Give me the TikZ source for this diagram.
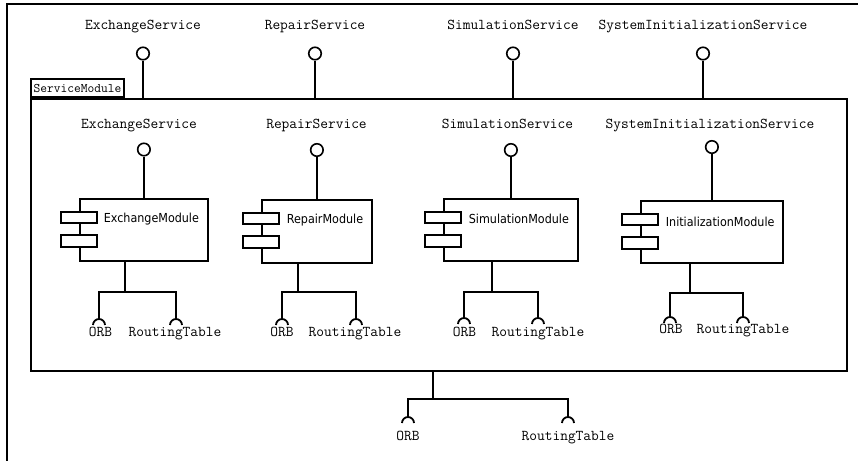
\documentclass[tikz,border=0pt]{standalone}
\usepackage{fontspec}
\setmainfont{Liberation Sans}
\newfontfamily\compfont{DejaVu Sans Condensed}
\begin{document}
\begin{tikzpicture}[x=1pt,y=1pt,line width=1.8pt,
  iflabel/.style={font=\ttfamily\fontsize{15}{17}\selectfont,inner sep=0pt,anchor=base},
  lolli/.style={circle,draw,fill=white,minimum size=12.5pt,inner sep=0pt,line width=1.6pt},
  compbox/.style={draw,rectangle,inner sep=0pt,anchor=north west},
  comptab/.style={draw,rectangle,fill=white,inner sep=0pt,minimum width=36pt,minimum height=11.5pt,line width=1.6pt},
  compname/.style={font=\compfont\fontsize{12.4}{14}\selectfont,inner sep=0pt,anchor=west},
  wire/.style={line width=1.8pt},
  socket/.pic={\draw[line width=1.8pt] (-6,-6) arc[start angle=180,end angle=0,radius=6];}
]
\useasboundingbox (0,0) rectangle (858,-461);

% page frame (top and left edges only)
\draw[line width=1.8pt] (858,-4) -- (7,-4) -- (7,-461);

% ServiceModule package frame and its name tab
\node[draw,rectangle,inner sep=0pt,anchor=north west,minimum width=816pt,minimum height=272pt] (svc) at (30,-98) {};
\node[draw,rectangle,inner sep=0pt,anchor=south west,minimum width=93pt,minimum height=18pt,
      font=\ttfamily\fontsize{13.1}{15}\selectfont] (svctab) at (30,-98) {ServiceModule};

% provided interfaces of the package
\node[iflabel] (tl1) at (143,-29) {ExchangeService};
\node[iflabel] (tl2) at (315,-29) {RepairService};
\node[iflabel] (tl3) at (513,-29) {SimulationService};
\node[iflabel] (tl4) at (703,-29) {SystemInitializationService};
\node[lolli] (tc1) at (143,-53.5) {};
\node[lolli] (tc2) at (315,-53.5) {};
\node[lolli] (tc3) at (513,-53.5) {};
\node[lolli] (tc4) at (703,-53.5) {};
\foreach \i in {1,...,4} \draw[wire] (tc\i.south) -- (tc\i.south |- svc.north);

% components inside the package
\node[compbox,minimum width=128pt,minimum height=62pt] (eBox) at (79,-198) {};
\node[compbox,minimum width=110pt,minimum height=63pt] (rBox) at (261,-199) {};
\node[compbox,minimum width=134pt,minimum height=62pt] (sBox) at (443,-198) {};
\node[compbox,minimum width=142pt,minimum height=62pt] (iBox) at (640,-200) {};

\foreach \b in {eBox,rBox,sBox,iBox} {
  \node[comptab] (\b-t1) at ([yshift=-19.5pt]\b.north west) {};
  \node[comptab] (\b-t2) at ([yshift=-43pt]\b.north west) {};
}
\node[compname] (eName) at ([xshift=24pt,yshift=-21pt]eBox.north west) {ExchangeModule};
\node[compname] (rName) at ([xshift=25pt,yshift=-21pt]rBox.north west) {RepairModule};
\node[compname] (sName) at ([xshift=25pt,yshift=-21pt]sBox.north west) {SimulationModule};
\node[compname] (iName) at ([xshift=25pt,yshift=-22pt]iBox.north west) {InitializationModule};

% provided interfaces of the components
\node[iflabel] (il1) at (139,-128) {ExchangeService};
\node[iflabel] (il2) at (316.5,-128) {RepairService};
\node[iflabel] (il3) at (507.5,-128) {SimulationService};
\node[iflabel] (il4) at (710,-128) {SystemInitializationService};
\node[lolli] (ic1) at (eBox.north |- 0,-149.5) {};
\node[lolli] (ic2) at (rBox.north |- 0,-150) {};
\node[lolli] (ic3) at (sBox.north |- 0,-150) {};
\node[lolli] (ic4) at (iBox.north |- 0,-147) {};
\draw[wire] (ic1.south) -- (eBox.north);
\draw[wire] (ic2.south) -- (rBox.north);
\draw[wire] (ic3.south) -- (sBox.north);
\draw[wire] (ic4.south) -- (iBox.north);

% required interfaces of the components
% ExchangeModule
\coordinate (eJ) at (125,-292);
\coordinate (eS1) at (99,-319);
\coordinate (eS2) at (176,-319);
\draw[wire] (eBox.south -| eJ) -- (eJ);
\draw[wire] (eS1) -- (eS1 |- eJ) -- (eS2 |- eJ) -- (eS2);
\pic at (eS1) {socket};
\pic at (eS2) {socket};
\node[iflabel] (eORB) at (100.5,-336) {ORB};
\node[iflabel] (eRT) at (175,-336) {RoutingTable};

% RepairModule
\coordinate (rJ) at (298,-292);
\coordinate (rS1) at (282,-319);
\coordinate (rS2) at (356,-319);
\draw[wire] (rBox.south -| rJ) -- (rJ);
\draw[wire] (rS1) -- (rS1 |- rJ) -- (rS2 |- rJ) -- (rS2);
\pic at (rS1) {socket};
\pic at (rS2) {socket};
\node[iflabel] (rORB) at (282,-336) {ORB};
\node[iflabel] (rRT) at (355,-336) {RoutingTable};

% SimulationModule
\coordinate (sJ) at (492,-292);
\coordinate (sS1) at (464,-318);
\coordinate (sS2) at (538,-318);
\draw[wire] (sBox.south -| sJ) -- (sJ);
\draw[wire] (sS1) -- (sS1 |- sJ) -- (sS2 |- sJ) -- (sS2);
\pic at (sS1) {socket};
\pic at (sS2) {socket};
\node[iflabel] (sORB) at (464.5,-336) {ORB};
\node[iflabel] (sRT) at (538,-336) {RoutingTable};

% InitializationModule
\coordinate (iJ) at (690,-293);
\coordinate (iS1) at (670,-317);
\coordinate (iS2) at (743,-317);
\draw[wire] (iBox.south -| iJ) -- (iJ);
\draw[wire] (iS1) -- (iS1 |- iJ) -- (iS2 |- iJ) -- (iS2);
\pic at (iS1) {socket};
\pic at (iS2) {socket};
\node[iflabel] (iORB) at (671,-333) {ORB};
\node[iflabel] (iRT) at (743,-333) {RoutingTable};

% required interfaces of the package
\coordinate (pJ) at (433,-399);
\coordinate (pS1) at (408,-417);
\coordinate (pS2) at (568,-417);
\draw[wire] (svc.south -| pJ) -- (pJ);
\draw[wire] (pS1) -- (pS1 |- pJ) -- (pS2 |- pJ) -- (pS2);
\pic at (pS1) {socket};
\pic at (pS2) {socket};
\node[iflabel] (pORB) at (408,-440) {ORB};
\node[iflabel] (pRT) at (568,-440) {RoutingTable};
\end{tikzpicture}
\end{document}
